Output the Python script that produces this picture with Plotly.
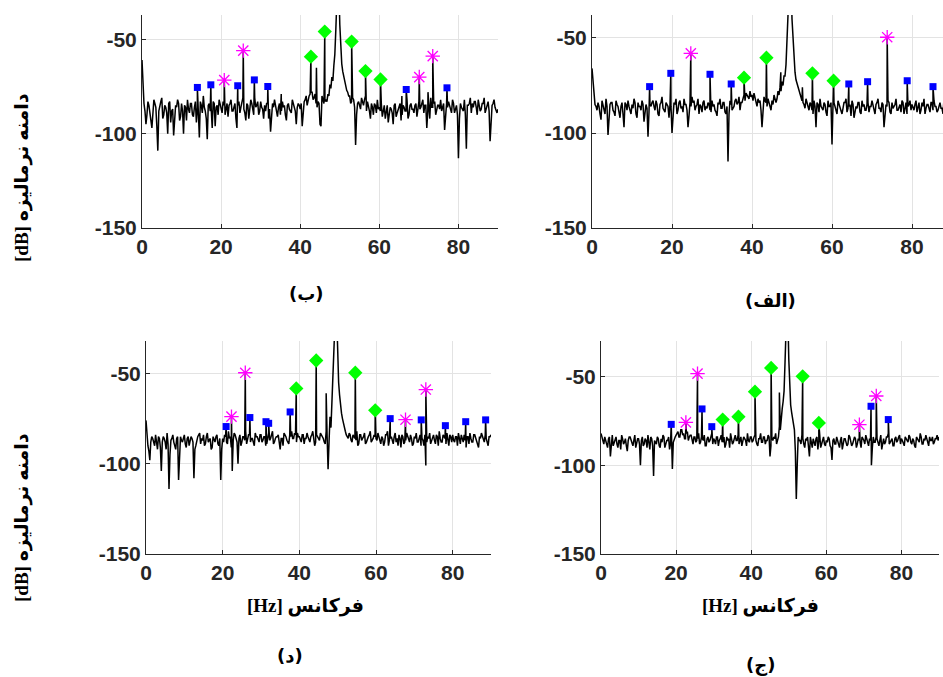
import plotly.graph_objects as go

FREQ_STEP = 0.5

# ---------------- panel (ب) top-left ----------------
b_noise = [
    -61, -84, -95, -83, -88, -97, -82, -86, -109, -84, -81, -90, -86, -100, -83, -88, -101, -85, -82, -93,
    -84, -100, -86, -82, -89, -84, -91, -83, -86, -102, -85, -80, -88, -103, -84, -87, -83, -96, -85, -82,
    -86, -83, -90, -84, -85, -82, -88, -84, -97, -83, -86, -81, -89, -84, -92, -82, -87, -81, -85, -90,
    -83, -87, -85, -84, -92, -99, -84, -82, -88, -86, -90, -83, -85, -93, -84, -88, -82, -86, -95, -84,
    -87, -96, -83, -80, -82, -79, -78, -81, -84, -83, -95, -80, -84, -82, -79, -74, -70, -64, -45, -15,
    -42, -63, -70, -75, -78, -80, -83, -82, -106, -84, -86, -81, -85, -80, -83, -88, -84, -90, -85, -82,
    -86, -84, -88, -92, -85, -90, -87, -95, -84, -89, -86, -93, -85, -88, -82, -90, -84, -87, -85, -91,
    -83, -86, -82, -85, -97, -84, -81, -86, -83, -88, -85, -82, -86, -98, -84, -83, -87, -82, -89, -85,
    -113, -84, -87, -82, -108, -85, -81, -84, -83, -86, -82, -88, -84, -81, -86, -83, -104, -85, -82, -88, -87,
]
b_mid = [
    -78, -88, -90, -85, -93, -87, -84, -96, -88, -83, -92, -85, -89, -84, -94, -87, -90, -86, -84, -91,
    -88, -85, -93, -87, -84, -90, -86, -94, -88, -83, -89, -86, -92, -85, -88, -97, -84, -86, -90, -85,
    -89, -85, -87, -91, -84, -88, -86, -92, -85, -89, -84, -87, -93, -85, -88, -84, -90, -86, -83, -88,
    -86, -92, -88, -84, -87, -90, -86, -85, -91, -84, -88, -86, -90, -85, -87, -89, -84, -88, -86, -85,
    -84, -88, -82, -85, -80, -78, -82, -79, -86, -84, -96, -82, -83, -83, -80, -76, -72, -58, -25, -20,
    -55, -67, -73, -77, -80, -84, -81, -86, -90, -83, -87, -84, -82, -88, -85, -92, -86, -84, -89, -87,
    -88, -91, -85, -87, -94, -86, -89, -85, -91, -87, -84, -90, -86, -88, -92, -85, -87, -89, -84, -88,
    -87, -84, -89, -85, -88, -92, -86, -84, -90, -85, -87, -88, -84, -91, -86, -85, -89, -84, -87, -90,
    -92, -86, -88, -90, -85, -84, -89, -86, -83, -90, -85, -87, -84, -89, -85, -88, -91, -84, -86, -89,
]
b_blue_f = [14.0, 17.4, 24.2, 28.4, 31.8, 66.8, 77.1]
b_blue_db = [-75.5, -74.1, -74.6, -71.5, -75.0, -76.6, -75.7]
b_green_f = [42.7, 46.2, 53.0, 56.5, 60.3]
b_green_db = [-59.2, -45.9, -51.2, -66.8, -71.3]
b_mag_f = [20.8, 25.6, 70.1, 73.5]
b_mag_db = [-71.6, -56.0, -70.0, -58.9]
b_extra_f = [44.1, 35.2, 65.7, 72.3]
b_extra_db = [-65.0, -79.0, -80.0, -78.0]

# ---------------- panel (الف) top-right ----------------
a_noise = [
    -66, -80, -86, -84, -90, -83, -88, -82, -101, -85, -84, -89, -83, -86, -92, -84, -97, -85, -83, -88,
    -85, -82, -90, -84, -86, -83, -94, -85, -102, -85, -84, -86, -83, -90, -85, -81, -88, -84, -86, -85,
    -100, -84, -82, -88, -83, -86, -82, -85, -97, -84, -81, -83, -86, -82, -85, -89, -83, -86, -84, -88,
    -83, -85, -89, -84, -82, -87, -84, -90, -115, -83, -88, -86, -82, -84, -88, -84, -80, -79, -81, -78,
    -80, -79, -84, -82, -83, -97, -81, -84, -82, -86, -83, -80, -84, -78, -76, -73, -70, -64, -42, -12,
    -40, -62, -72, -76, -80, -83, -85, -82, -86, -84, -88, -83, -97, -85, -82, -87, -84, -89, -83, -86,
    -106, -84, -88, -83, -86, -90, -84, -82, -87, -85, -83, -92, -86, -84, -89, -83, -85, -88, -84, -86,
    -83, -88, -85, -82, -87, -84, -97, -85, -83, -89, -84, -86, -82, -88, -85, -83, -90, -84, -86, -83,
    -85, -88, -83, -86, -90, -84, -82, -87, -85, -89, -84, -83, -86, -88, -84, -87, -82, -85, -89, -84, -86,
]
a_mid = [
    -74, -85, -88, -86, -93, -85, -90, -86, -92, -84, -88, -91, -85, -89, -86, -90, -84, -88, -86, -90,
    -87, -84, -92, -86, -88, -85, -90, -87, -89, -86, -83, -88, -85, -91, -84, -87, -89, -85, -92, -86,
    -88, -85, -90, -84, -87, -89, -85, -88, -91, -86, -84, -88, -85, -90, -86, -84, -88, -87, -85, -89,
    -86, -88, -91, -85, -87, -84, -89, -86, -90, -85, -87, -83, -85, -81, -84, -82, -83, -80, -82, -81,
    -83, -81, -86, -84, -88, -85, -83, -86, -84, -88, -85, -83, -82, -80, -78, -75, -70, -55, -22, -18,
    -52, -68, -74, -78, -82, -84, -87, -84, -88, -85, -90, -86, -84, -89, -86, -88, -85, -91, -86, -84,
    -88, -86, -90, -85, -88, -87, -84, -89, -86, -91, -85, -88, -87, -84, -90, -86, -88, -85, -89, -86,
    -86, -90, -84, -87, -89, -85, -88, -86, -84, -90, -87, -85, -88, -86, -89, -84, -87, -90, -85, -88,
    -87, -85, -89, -84, -88, -86, -90, -85, -87, -84, -88, -86, -89, -85, -87, -90, -84, -88, -86, -85,
]
a_blue_f = [14.4, 19.7, 29.5, 34.8, 64.2, 68.9, 78.8, 85.25]
a_blue_db = [-75.6, -68.6, -69.1, -74.2, -74.2, -73.0, -72.5, -75.6]
a_green_f = [38.0, 43.6, 55.1, 60.4]
a_green_db = [-70.9, -60.4, -68.6, -72.5]
a_mag_f = [24.7, 73.8]
a_mag_db = [-58.1, -49.6]
a_extra_f = [47.2, 52.6]
a_extra_db = [-68.0, -76.0]

# ---------------- panel (د) bottom-left ----------------
d_noise = [
    -76, -90, -98, -85, -89, -84, -92, -86, -104, -85, -88, -83, -114, -87, -84, -90, -86, -109, -85, -88,
    -84, -91, -85, -88, -86, -108, -90, -85, -83, -86, -84, -89, -83, -87, -92, -85, -88, -84, -90, -109,
    -86, -84, -88, -82, -85, -104, -83, -86, -100, -84, -88, -85, -82, -87, -84, -86, -89, -83, -85, -88,
    -84, -87, -85, -89, -83, -86, -82, -88, -85, -84, -92, -86, -83, -85, -88, -84, -82, -86, -84, -83,
    -85, -88, -84, -86, -83, -87, -85, -82, -90, -84, -86, -83, -85, -88, -82, -103, -74, -66, -42, -10,
    -40, -62, -72, -78, -82, -85, -83, -87, -84, -86, -82, -89, -84, -86, -83, -88, -85, -82, -87, -84,
    -86, -83, -88, -85, -90, -84, -82, -87, -85, -89, -83, -86, -84, -91, -85, -88, -83, -86, -84, -90,
    -85, -83, -88, -84, -86, -90, -101, -85, -83, -87, -84, -89, -85, -82, -88, -84, -86, -83, -90, -85,
    -84, -88, -85, -83, -89, -86, -84, -91, -85, -83, -88, -84, -86, -90, -85, -83, -87, -84, -89, -85, -84,
]
d_mid = [
    -84, -93, -88, -86, -90, -87, -85, -91, -88, -86, -92, -89, -95, -86, -88, -92, -85, -90, -87, -86,
    -89, -86, -90, -85, -88, -92, -86, -84, -89, -87, -90, -85, -88, -86, -91, -87, -85, -89, -86, -92,
    -88, -85, -89, -86, -91, -87, -84, -88, -86, -90, -85, -87, -89, -84, -88, -86, -90, -85, -87, -84,
    -88, -85, -90, -86, -87, -84, -89, -86, -85, -88, -86, -90, -84, -87, -89, -85, -86, -83, -88, -85,
    -87, -84, -89, -86, -85, -88, -84, -86, -88, -85, -87, -84, -86, -89, -85, -88, -80, -60, -22, -18,
    -55, -68, -75, -80, -84, -86, -84, -88, -85, -87, -90, -84, -87, -85, -89, -86, -84, -88, -86, -85,
    -87, -85, -89, -86, -88, -84, -90, -86, -87, -85, -88, -90, -86, -84, -89, -87, -85, -88, -86, -89,
    -86, -88, -85, -90, -87, -84, -88, -86, -89, -85, -87, -84, -90, -86, -88, -85, -89, -87, -84, -88,
    -87, -85, -90, -86, -84, -88, -87, -85, -89, -86, -88, -84, -87, -91, -86, -85, -88, -86, -90, -85,
]
d_blue_f = [20.9, 27.1, 31.3, 32.0, 37.6, 63.7, 71.8, 78.1, 83.4, 88.6]
d_blue_db = [-79.4, -74.4, -76.7, -77.6, -71.3, -75.0, -75.7, -78.9, -76.7, -75.7]
d_green_f = [39.2, 44.4, 54.6, 59.8]
d_green_db = [-58.3, -42.8, -49.6, -70.4]
d_mag_f = [22.3, 25.9, 67.7, 73.0]
d_mag_db = [-73.9, -49.6, -75.6, -58.9]
d_extra_f = [47.0]
d_extra_db = [-61.0]

# ---------------- panel (ج) bottom-right ----------------
c_noise = [
    -82, -86, -84, -88, -85, -95, -83, -87, -84, -90, -86, -83, -88, -85, -92, -84, -86, -89, -83, -87,
    -85, -100, -84, -88, -86, -83, -91, -85, -106, -87, -84, -89, -85, -83, -90, -86, -84, -88, -102, -85,
    -83, -81, -84, -80, -82, -85, -81, -84, -83, -88, -84, -86, -82, -87, -85, -83, -89, -84, -86, -82,
    -85, -88, -84, -86, -83, -87, -90, -84, -85, -82, -88, -84, -86, -83, -85, -89, -84, -86, -82, -87,
    -84, -86, -83, -88, -85, -82, -87, -84, -86, -83, -95, -85, -84, -82, -86, -78, -72, -64, -42, -8,
    -40, -66, -74, -80, -119, -84, -86, -83, -88, -85, -84, -95, -87, -85, -89, -84, -86, -90, -85, -88,
    -86, -84, -89, -97, -85, -88, -86, -90, -84, -87, -85, -89, -83, -86, -88, -84, -90, -85, -87, -84,
    -86, -83, -88, -85, -100, -84, -87, -85, -89, -83, -86, -88, -84, -82, -87, -85, -89, -84, -86, -83,
    -85, -88, -84, -86, -83, -87, -85, -89, -84, -86, -82, -88, -85, -83, -87, -84, -86, -88, -85, -83, -84,
]
c_mid = [
    -85, -88, -86, -90, -84, -87, -89, -85, -88, -86, -91, -85, -87, -89, -86, -84, -88, -86, -90, -85,
    -88, -86, -89, -85, -90, -87, -84, -89, -86, -88, -85, -90, -87, -84, -88, -86, -91, -85, -87, -84,
    -82, -84, -80, -83, -85, -82, -86, -83, -85, -84, -87, -85, -88, -84, -86, -89, -85, -87, -84, -88,
    -86, -84, -89, -85, -87, -84, -88, -86, -90, -85, -87, -83, -86, -88, -84, -87, -85, -89, -86, -84,
    -87, -84, -86, -89, -85, -87, -84, -88, -86, -84, -89, -86, -85, -88, -84, -80, -68, -58, -22, -15,
    -56, -70, -78, -92, -100, -86, -88, -85, -90, -86, -88, -84, -90, -87, -85, -91, -86, -88, -84, -89,
    -87, -85, -90, -86, -88, -84, -89, -86, -91, -85, -87, -88, -84, -89, -86, -85, -88, -86, -90, -85,
    -88, -85, -89, -86, -90, -87, -84, -88, -86, -91, -85, -87, -84, -88, -86, -89, -85, -87, -84, -88,
    -86, -89, -85, -87, -84, -88, -86, -90, -85, -87, -84, -88, -86, -85, -89, -86, -84, -87, -85, -86,
]
c_blue_f = [18.7, 26.9, 29.5, 71.9, 76.5]
c_blue_db = [-76.9, -68.2, -78.2, -66.7, -74.2]
c_green_f = [32.4, 36.6, 41.0, 45.3, 53.7, 58.0]
c_green_db = [-74.2, -72.6, -58.5, -45.1, -49.8, -76.1]
c_mag_f = [22.6, 25.7, 68.8, 73.3]
c_mag_db = [-75.8, -48.3, -77.1, -60.9]
c_extra_f = [47.5]
c_extra_db = [-59.0]

x_ticks = [0, 20, 40, 60, 80]
x_tick_labels = ["0", "20", "40", "60", "80"]
y_ticks = [-150, -100, -50]
y_tick_labels = ["-150", "-100", "-50"]

captions = ["(ب)", "(الف)", "(د)", "(ج)"]
RLE, PDF = "\u202b", "\u202c"
x_title = RLE + "فرکانس [Hz]" + PDF
y_title = RLE + "دامنه نرمالیزه [dB]" + PDF

W, H = 943, 677


def px_x(p):
    return p / W


def px_y(p):
    return 1 - p / H


panels = [
    dict(noise=b_noise, mid=b_mid, bf=b_blue_f, bd=b_blue_db, gf=b_green_f, gd=b_green_db,
         mf=b_mag_f, md=b_mag_db, ef=b_extra_f, ed=b_extra_db,
         xd=(142, 498), yd=(15, 228), xr=(0, 90), yr=(-150, -37.1)),
    dict(noise=a_noise, mid=a_mid, bf=a_blue_f, bd=a_blue_db, gf=a_green_f, gd=a_green_db,
         mf=a_mag_f, md=a_mag_db, ef=a_extra_f, ed=a_extra_db,
         xd=(592, 943), yd=(15, 228), xr=(0, 87.75), yr=(-150, -37.9)),
    dict(noise=d_noise, mid=d_mid, bf=d_blue_f, bd=d_blue_db, gf=d_green_f, gd=d_green_db,
         mf=d_mag_f, md=d_mag_db, ef=d_extra_f, ed=d_extra_db,
         xd=(146, 491), yd=(341, 554), xr=(0, 90), yr=(-150, -32.0)),
    dict(noise=c_noise, mid=c_mid, bf=c_blue_f, bd=c_blue_db, gf=c_green_f, gd=c_green_db,
         mf=c_mag_f, md=c_mag_db, ef=c_extra_f, ed=c_extra_db,
         xd=(601, 939), yd=(341, 554), xr=(0, 90), yr=(-150, -29.9)),
]

fig = go.Figure()
tickfont = dict(family="Liberation Sans, Arial, sans-serif", size=21, color="#262626")


def bold(labels):
    return ["<b>" + t + "</b>" for t in labels]


for k, p in enumerate(panels):
    n = k + 1
    xa = "x" if n == 1 else f"x{n}"
    ya = "y" if n == 1 else f"y{n}"
    pts = [(i * FREQ_STEP, v) for i, v in enumerate(p["noise"])]
    pts += [(FREQ_STEP / 2 + i * FREQ_STEP, v) for i, v in enumerate(p["mid"])]
    pts += list(zip(p["bf"], p["bd"]))
    pts += list(zip(p["gf"], p["gd"]))
    pts += list(zip(p["mf"], p["md"]))
    pts += list(zip(p["ef"], p["ed"]))
    pts.sort(key=lambda t: t[0])
    fig.add_trace(go.Scatter(x=[t[0] for t in pts], y=[t[1] for t in pts], mode="lines",
                             line=dict(color="black", width=1.5), xaxis=xa, yaxis=ya,
                             showlegend=False, hoverinfo="skip"))
    fig.add_trace(go.Scatter(x=p["bf"], y=p["bd"], mode="markers",
                             marker=dict(symbol="square", size=7, color="#0000FF"),
                             xaxis=xa, yaxis=ya, showlegend=False))
    fig.add_trace(go.Scatter(x=p["gf"], y=p["gd"], mode="markers",
                             marker=dict(symbol="diamond", size=11, color="#00FF00"),
                             xaxis=xa, yaxis=ya, showlegend=False))
    fig.add_trace(go.Scatter(x=p["mf"], y=p["md"], mode="markers",
                             marker=dict(symbol="asterisk-open", size=12, color="#FF00FF",
                                         line=dict(color="#FF00FF", width=1.3)),
                             xaxis=xa, yaxis=ya, showlegend=False))
    axis_common = dict(showgrid=True, gridcolor="#e3e3e3", gridwidth=1, showline=True,
                       linecolor="#262626", linewidth=1, mirror=False, zeroline=False,
                       ticks="inside", ticklen=4, tickcolor="#262626", tickfont=tickfont,
                       automargin=False)
    fig.layout[("xaxis" if n == 1 else f"xaxis{n}")] = dict(
        domain=[px_x(p["xd"][0]), px_x(p["xd"][1])], range=list(p["xr"]),
        tickmode="array", tickvals=x_ticks, ticktext=bold(x_tick_labels), anchor=ya, **axis_common)
    fig.layout[("yaxis" if n == 1 else f"yaxis{n}")] = dict(
        domain=[px_y(p["yd"][1]), px_y(p["yd"][0])], range=list(p["yr"]),
        tickmode="array", tickvals=y_ticks, ticktext=bold(y_tick_labels), anchor=xa, **axis_common)

ann = []
cap_font = dict(family="DejaVu Sans, Noto Sans, sans-serif", size=18, color="black")
title_font = dict(family="Liberation Serif, DejaVu Sans, serif", size=19, color="black")
cap_pos = [(306, 293), (770, 300), (290, 655), (760, 665)]
for text, (cx, cy) in zip(captions, cap_pos):
    ann.append(dict(text="<b>" + text + "</b>", x=px_x(cx), y=px_y(cy), xref="paper", yref="paper",
                    showarrow=False, font=cap_font, xanchor="center", yanchor="middle"))
for cx in (305, 760):
    ann.append(dict(text="<b>" + x_title + "</b>", x=px_x(cx), y=px_y(606), xref="paper", yref="paper",
                    showarrow=False, font=title_font, xanchor="center", yanchor="middle"))
for cy in (178, 518):
    ann.append(dict(text="<b>" + y_title + "</b>", x=px_x(22), y=px_y(cy), xref="paper", yref="paper",
                    showarrow=False, font=title_font, textangle=-90,
                    xanchor="center", yanchor="middle"))

fig.update_layout(width=W, height=H, margin=dict(l=0, r=0, t=0, b=0),
                  paper_bgcolor="white", plot_bgcolor="white", annotations=ann)

fig.write_html("out.html", config={"displayModeBar": False},
               post_script="document.body.style.margin='0px';document.body.style.overflow='hidden';")
